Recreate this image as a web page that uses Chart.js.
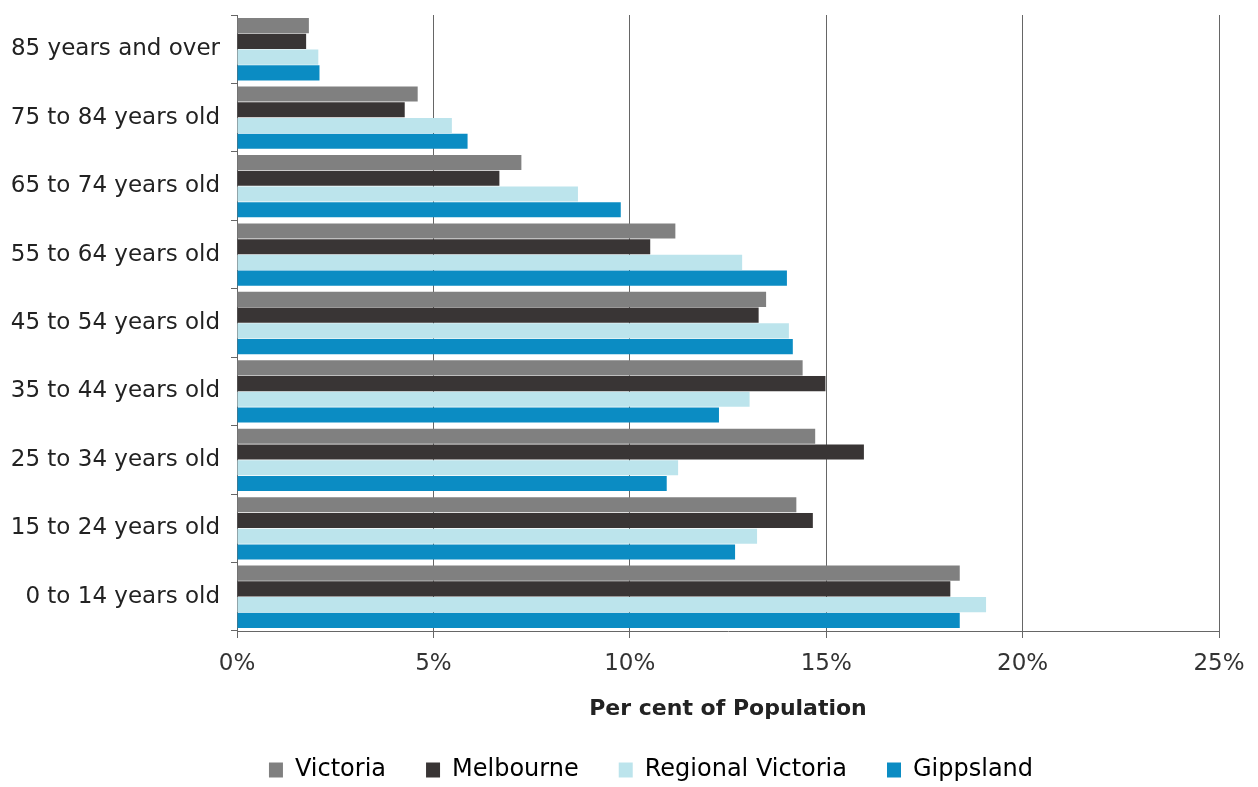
<!DOCTYPE html>
<html>
<head>
<meta charset="utf-8">
<script src="https://cdn.jsdelivr.net/npm/chart.js@4/dist/chart.umd.min.js"></script>
<style>
    html, body { margin: 0; padding: 0; background: #fff; }
    #wrap { width: 1258px; height: 787px; }
</style>
</head>
<body>
<div id="wrap"><canvas id="ageChart"></canvas></div>
<script>
// age groups, top to bottom
const ageLabels = ['85 years and over', '75 to 84 years old', '65 to 74 years old', '55 to 64 years old',
    '45 to 54 years old', '35 to 44 years old', '25 to 34 years old', '15 to 24 years old', '0 to 14 years old'];

// per cent of population
const victoriaValues = [1.83, 4.6, 7.24, 11.16, 13.47, 14.4, 14.72, 14.24, 18.4];
const melbourneValues = [1.76, 4.27, 6.68, 10.52, 13.28, 14.98, 15.96, 14.66, 18.16];
const regionalValues = [2.07, 5.47, 8.68, 12.86, 14.05, 13.05, 11.23, 13.24, 19.07];
const gippslandValues = [2.1, 5.87, 9.77, 14.0, 14.15, 12.27, 10.94, 12.68, 18.4];

const xTicks = [0, 5, 10, 15, 20, 25];

const seriesColours = ['#808080', '#393535', '#bce4ec', '#0b8cc3'];

const ctx = document.getElementById('ageChart').getContext('2d');
new Chart(ctx, {
    type: 'bar',
    data: {
        labels: ageLabels,
        datasets: [
            { label: 'Victoria', data: victoriaValues, backgroundColor: seriesColours[0] },
            { label: 'Melbourne', data: melbourneValues, backgroundColor: seriesColours[1] },
            { label: 'Regional Victoria', data: regionalValues, backgroundColor: seriesColours[2] },
            { label: 'Gippsland', data: gippslandValues, backgroundColor: seriesColours[3] }
        ]
    },
    options: {
        indexAxis: 'y',
        responsive: true,
        maintainAspectRatio: false,
        animation: false,
        categoryPercentage: 0.92,
        barPercentage: 0.96,
        // negative right padding + empty right axis: keeps the plot edge at 25% and shifts the legend right
        layout: { padding: { top: 15, right: -44, left: 0, bottom: -5 } },
        plugins: {
            tooltip: { enabled: false },
            legend: {
                position: 'bottom',
                labels: {
                    font: { family: 'DejaVu Sans', size: 24 },
                    color: '#333',
                    boxWidth: 14,
                    boxHeight: 15,
                    padding: 40,
                    generateLabels: chart => chart.data.datasets.map((ds, i) => ({
                        text: ds.label,
                        fillStyle: ds.backgroundColor,
                        strokeStyle: ds.backgroundColor,
                        lineWidth: 0,
                        datasetIndex: i
                    }))
                }
            }
        },
        scales: {
            x: {
                min: 0,
                max: 25,
                afterBuildTicks: scale => { scale.ticks = xTicks.map(v => ({ value: v })); },
                afterFit: scale => { scale.height = 87; },
                ticks: {
                    callback: v => v + '%',
                    font: { family: 'DejaVu Sans', size: 23 },
                    color: '#333',
                    padding: 12
                },
                grid: { color: '#666', lineWidth: 1, tickLength: 7 },
                border: { color: '#666' },
                title: {
                    display: true,
                    text: 'Per cent of Population',
                    font: { family: 'DejaVu Sans', size: 22, weight: 'bold' },
                    color: '#222',
                    padding: { top: 0, bottom: -4 }
                }
            },
            y: {
                afterFit: scale => {
                    scale.width = 237;
                    scale.paddingTop = 0;
                    scale.paddingBottom = 0;
                },
                ticks: {
                    font: { family: 'DejaVu Sans', size: 23 },
                    color: '#222',
                    padding: 11
                },
                grid: { drawOnChartArea: false, tickLength: 6, color: '#666' },
                border: { color: '#666' }
            },
            yRight: {
                position: 'right',
                afterFit: scale => { scale.width = 83; },
                ticks: { display: false },
                grid: { display: false },
                border: { display: false }
            }
        }
    }
});
</script>
</body>
</html>
